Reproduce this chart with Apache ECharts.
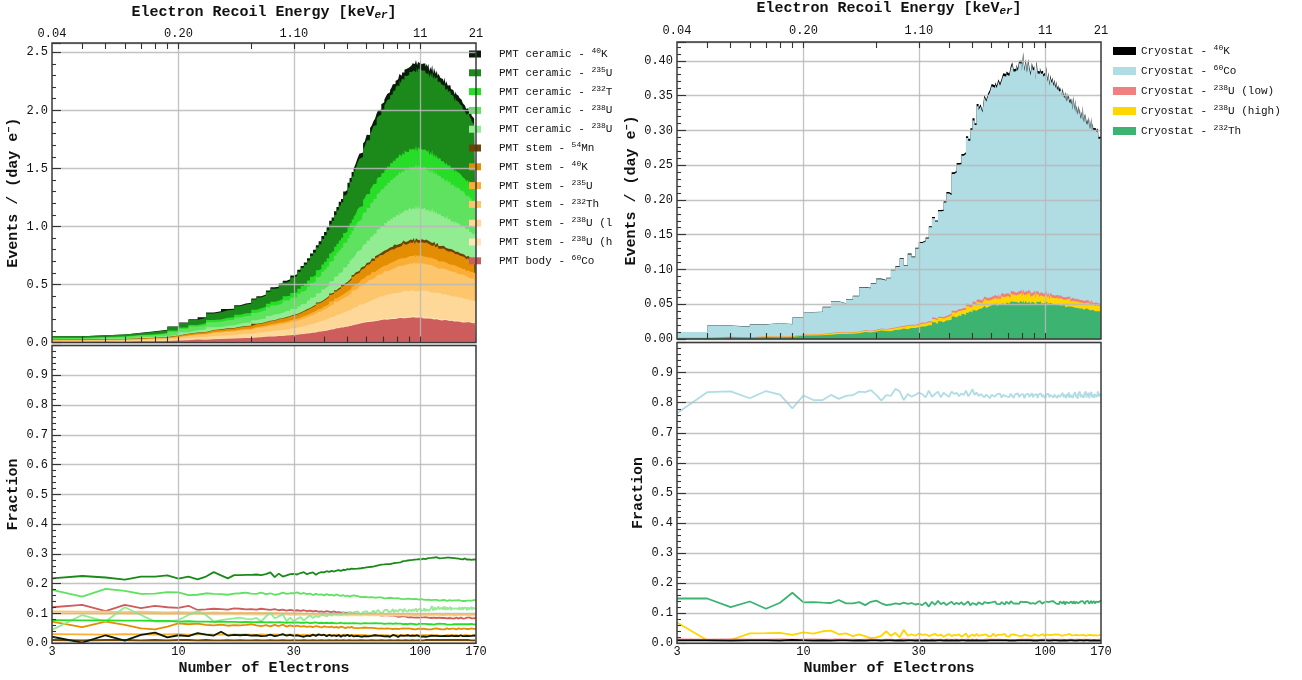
<!DOCTYPE html>
<html>
<head>
<meta charset="utf-8">
<title>Electron recoil backgrounds</title>
<script src="https://cdn.jsdelivr.net/npm/echarts@6.0.0/dist/echarts.min.js"></script>
<style>
  html, body { margin: 0; padding: 0; background: #fff; }
  #main { width: 1302px; height: 680px; }
</style>
</head>
<body>
<div id="main"></div>
<script>
// bin lower edges: number of electrons, one bin per electron
var electrons = [
  3,4,5,6,7,8,9,10,11,12,
  13,14,15,16,17,18,19,20,21,22,
  23,24,25,26,27,28,29,30,31,32,
  33,34,35,36,37,38,39,40,41,42,
  43,44,45,46,47,48,49,50,51,52,
  53,54,55,56,57,58,59,60,61,62,
  63,64,65,66,67,68,69,70,71,72,
  73,74,75,76,77,78,79,80,81,82,
  83,84,85,86,87,88,89,90,91,92,
  93,94,95,96,97,98,99,100,101,102,
  103,104,105,106,107,108,109,110,111,112,
  113,114,115,116,117,118,119,120,121,122,
  123,124,125,126,127,128,129,130,131,132,
  133,134,135,136,137,138,139,140,141,142,
  143,144,145,146,147,148,149,150,151,152,
  153,154,155,156,157,158,159,160,161,162,
  163,164,165,166,167,168,169,170
];

// tick labels
var electronTicks = [3, 10, 30, 100, 170];
var electronLabels = ['3', '10', '30', '100', '170'];
var energyLabels = ['0.04', '0.20', '1.10', '11', '21'];
var gridTicks = [10, 30, 100];
var minorTicks = [4, 5, 6, 7, 8, 9, 20, 40, 50, 60, 70, 80, 90];

// ---- PMT panel: total rate (events / day / e-) ----
var pmtTotal = [
  .055,.063,.069,.080,.095,.110,.139,.171,.197,.214,
  .254,.269,.286,.297,.320,.335,.342,.380,.400,.420,
  .448,.466,.487,.510,.528,.560,.578,.602,.632,.668,
  .700,.738,.772,.812,.848,.888,.922,.962,1.004,1.052,
  1.088,1.138,1.178,1.222,1.258,1.304,1.338,1.384,1.428,1.474,
  1.508,1.556,1.598,1.642,1.676,1.722,1.752,1.794,1.822,1.862,
  1.888,1.924,1.948,1.984,2.006,2.044,2.062,2.094,2.108,2.136,
  2.148,2.176,2.186,2.214,2.226,2.252,2.258,2.284,2.288,2.314,
  2.316,2.342,2.344,2.366,2.362,2.384,2.378,2.398,2.392,2.410,
  2.398,2.418,2.404,2.428,2.410,2.430,2.412,2.446,2.408,2.422,
  2.400,2.414,2.390,2.402,2.378,2.390,2.366,2.376,2.352,2.364,
  2.338,2.350,2.326,2.334,2.310,2.318,2.296,2.304,2.282,2.290,
  2.266,2.276,2.250,2.260,2.238,2.244,2.222,2.230,2.208,2.216,
  2.194,2.200,2.180,2.186,2.164,2.172,2.150,2.158,2.136,2.144,
  2.122,2.130,2.106,2.114,2.092,2.100,2.076,2.086,2.062,2.070,
  2.046,2.054,2.032,2.040,2.016,2.024,2.000,2.006,1.986,1.990,
  1.968,1.976,1.952,1.960,1.938,1.944,1.920,1.920
];

// ---- PMT panel: fraction of each source ----
var fCer40K = [
  .022,.002,.027,.009,.028,.036,.020,.027,.024,.034,
  .029,.026,.039,.026,.028,.027,.028,.026,.027,.024,
  .025,.029,.024,.027,.031,.026,.028,.025,.027,.024,
  .022,.026,.024,.029,.025,.030,.027,.029,.024,.028,
  .025,.027,.024,.028,.022,.027,.025,.029,.024,.027,
  .023,.028,.025,.026,.022,.027,.024,.028,.023,.026,
  .025,.022,.027,.024,.026,.021,.025,.027,.023,.026,
  .024,.027,.022,.025,.028,.023,.026,.024,.021,.025,
  .027,.023,.025,.022,.026,.024,.027,.021,.025,.023,
  .026,.022,.025,.024,.027,.021,.024,.026,.022,.025,
  .023,.026,.022,.025,.027,.023,.024,.021,.026,.024,
  .022,.025,.027,.023,.025,.022,.026,.024,.021,.025,
  .024,.026,.022,.025,.023,.027,.024,.022,.026,.024,
  .025,.023,.026,.022,.025,.024,.027,.023,.025,.022,
  .026,.024,.022,.025,.027,.023,.025,.024,.021,.026,
  .024,.026,.023,.025,.022,.027,.024,.025,.023,.026,
  .025,.022,.026,.024,.027,.023,.025,.026
];
var fCer235U = [
  .218,.226,.221,.214,.224,.224,.228,.217,.224,.215,
  .224,.239,.228,.218,.229,.229,.230,.230,.231,.229,
  .232,.238,.222,.234,.224,.228,.232,.233,.231,.236,
  .239,.232,.236,.238,.230,.236,.239,.238,.242,.240,
  .243,.241,.244,.246,.243,.247,.246,.249,.248,.251,
  .250,.252,.251,.254,.252,.255,.254,.257,.256,.258,
  .257,.260,.259,.261,.262,.261,.264,.263,.265,.264,
  .266,.268,.266,.269,.268,.271,.270,.272,.271,.274,
  .272,.274,.276,.273,.277,.275,.278,.276,.279,.277,
  .280,.278,.281,.279,.282,.279,.283,.280,.282,.281,
  .284,.281,.283,.285,.282,.286,.283,.285,.287,.284,
  .286,.288,.285,.287,.289,.286,.288,.285,.287,.289,
  .286,.288,.285,.287,.289,.286,.288,.287,.285,.288,
  .286,.289,.287,.285,.288,.286,.284,.287,.285,.288,
  .286,.284,.287,.285,.283,.286,.284,.282,.285,.283,
  .285,.282,.284,.281,.283,.285,.282,.284,.281,.283,
  .280,.283,.281,.279,.282,.280,.283,.281
];
var fCer232T = [
  .078,.077,.077,.076,.076,.075,.075,.073,.074,.073,
  .073,.072,.073,.072,.072,.071,.072,.071,.071,.072,
  .070,.071,.070,.071,.070,.069,.070,.069,.070,.069,
  .069,.070,.068,.069,.070,.068,.069,.068,.069,.068,
  .069,.068,.067,.068,.069,.067,.068,.067,.068,.067,
  .068,.066,.067,.068,.066,.067,.068,.066,.067,.066,
  .067,.066,.068,.066,.067,.065,.067,.066,.065,.067,
  .066,.065,.067,.066,.065,.066,.067,.065,.066,.064,
  .066,.065,.064,.066,.065,.066,.064,.065,.066,.064,
  .065,.066,.064,.065,.063,.065,.066,.064,.065,.064,
  .065,.063,.065,.064,.066,.064,.063,.065,.064,.066,
  .064,.063,.065,.064,.065,.063,.064,.066,.064,.063,
  .065,.064,.063,.065,.064,.066,.063,.064,.065,.063,
  .064,.065,.063,.064,.066,.064,.063,.065,.064,.063,
  .065,.064,.063,.065,.064,.063,.065,.064,.066,.063,
  .064,.065,.063,.064,.065,.063,.064,.066,.064,.063,
  .065,.064,.063,.065,.064,.063,.065,.064
];
var fCer238Ua = [
  .179,.157,.183,.176,.166,.167,.172,.171,.162,.163,
  .168,.166,.165,.163,.167,.168,.170,.167,.166,.170,
  .165,.168,.163,.165,.170,.166,.168,.168,.171,.166,
  .169,.165,.167,.162,.166,.163,.164,.161,.165,.162,
  .163,.160,.164,.161,.159,.162,.158,.160,.157,.159,
  .161,.156,.158,.157,.155,.158,.156,.157,.154,.156,
  .155,.157,.153,.155,.154,.152,.154,.153,.151,.153,
  .152,.150,.153,.151,.152,.150,.151,.149,.152,.150,
  .149,.151,.148,.150,.149,.147,.150,.148,.149,.147,
  .148,.146,.149,.147,.148,.146,.147,.145,.148,.146,
  .147,.145,.146,.148,.145,.147,.144,.146,.145,.147,
  .144,.146,.145,.143,.146,.144,.145,.143,.146,.144,
  .145,.143,.144,.146,.143,.145,.142,.144,.143,.145,
  .142,.144,.143,.145,.142,.144,.143,.141,.144,.142,
  .143,.145,.142,.144,.143,.141,.144,.142,.143,.145,
  .142,.144,.141,.143,.144,.142,.143,.145,.142,.144,
  .143,.141,.144,.142,.145,.143,.144,.146
];
var fCer238Ub = [
  .045,.095,.073,.121,.095,.073,.073,.078,.095,.108,
  .095,.073,.078,.081,.084,.086,.082,.080,.085,.074,
  .090,.103,.084,.090,.098,.074,.086,.073,.082,.088,
  .076,.086,.094,.085,.092,.088,.096,.094,.090,.098,
  .093,.101,.096,.099,.094,.103,.097,.100,.106,.099,
  .104,.098,.107,.101,.096,.105,.102,.108,.100,.106,
  .103,.110,.101,.107,.112,.104,.108,.102,.111,.106,
  .113,.105,.110,.107,.115,.104,.112,.109,.106,.114,
  .108,.112,.104,.116,.109,.111,.106,.114,.110,.107,
  .115,.108,.112,.117,.106,.113,.110,.116,.109,.113,
  .111,.118,.107,.114,.112,.120,.109,.115,.112,.125,
  .110,.116,.121,.112,.118,.111,.123,.114,.117,.110,
  .120,.113,.118,.124,.112,.117,.121,.113,.119,.115,
  .122,.111,.118,.114,.120,.116,.112,.121,.117,.113,
  .119,.115,.122,.113,.118,.116,.121,.112,.119,.117,
  .114,.120,.116,.111,.121,.117,.113,.119,.115,.122,
  .116,.112,.120,.117,.114,.121,.115,.118
];
var fStem54Mn = [
  .011,.010,.011,.011,.010,.011,.010,.011,.011,.010,
  .011,.010,.010,.011,.010,.011,.010,.010,.011,.010,
  .010,.011,.010,.010,.011,.010,.010,.011,.010,.010,
  .011,.010,.010,.011,.010,.010,.011,.010,.010,.011,
  .010,.010,.011,.010,.010,.011,.010,.010,.011,.010,
  .010,.011,.010,.010,.011,.010,.010,.011,.010,.010,
  .011,.010,.010,.011,.010,.010,.011,.010,.010,.011,
  .010,.010,.011,.010,.010,.011,.010,.010,.011,.010,
  .010,.011,.010,.010,.011,.010,.010,.011,.010,.010,
  .011,.010,.010,.011,.010,.010,.011,.010,.010,.011,
  .010,.010,.011,.010,.010,.011,.010,.010,.011,.010,
  .010,.011,.010,.010,.011,.010,.010,.011,.010,.010,
  .011,.010,.010,.011,.010,.010,.011,.010,.010,.011,
  .010,.010,.011,.010,.010,.011,.010,.010,.011,.010,
  .010,.011,.010,.010,.011,.010,.010,.011,.010,.010,
  .011,.010,.010,.011,.010,.010,.011,.010,.010,.011,
  .010,.010,.011,.010,.010,.011,.010,.010
];
var fStem40K = [
  .073,.054,.073,.062,.050,.047,.056,.067,.064,.066,
  .062,.060,.063,.059,.061,.060,.062,.064,.060,.058,
  .061,.057,.062,.058,.063,.056,.060,.057,.059,.056,
  .058,.055,.057,.054,.058,.056,.053,.057,.055,.054,
  .056,.053,.055,.052,.056,.054,.051,.054,.053,.055,
  .052,.054,.051,.053,.052,.050,.053,.051,.052,.050,
  .052,.050,.051,.053,.049,.052,.050,.051,.049,.051,
  .050,.052,.049,.050,.048,.051,.049,.050,.048,.050,
  .049,.047,.050,.048,.049,.047,.050,.048,.049,.047,
  .048,.050,.047,.049,.048,.046,.049,.047,.048,.046,
  .049,.047,.048,.046,.049,.047,.048,.050,.047,.048,
  .046,.049,.047,.048,.050,.047,.049,.048,.046,.049,
  .047,.050,.048,.047,.049,.048,.050,.047,.049,.048,
  .050,.047,.049,.048,.046,.049,.048,.050,.047,.049,
  .048,.050,.047,.049,.048,.051,.048,.049,.047,.050,
  .049,.047,.050,.048,.049,.051,.048,.050,.047,.049,
  .050,.048,.049,.051,.048,.050,.049,.050
];
var fStem235U = [
  .031,.030,.029,.031,.030,.029,.030,.031,.029,.030,
  .030,.029,.030,.028,.030,.029,.030,.029,.028,.030,
  .029,.028,.030,.029,.028,.029,.030,.028,.029,.028,
  .029,.028,.029,.027,.029,.028,.029,.028,.027,.029,
  .028,.027,.029,.028,.027,.028,.029,.027,.028,.027,
  .028,.027,.028,.026,.028,.027,.028,.027,.026,.028,
  .027,.026,.028,.027,.026,.027,.028,.026,.027,.026,
  .027,.028,.026,.027,.026,.028,.027,.026,.027,.028,
  .026,.027,.028,.026,.027,.026,.028,.027,.026,.027,
  .028,.026,.027,.026,.028,.027,.026,.027,.028,.026,
  .027,.026,.028,.027,.026,.027,.028,.026,.027,.026,
  .028,.027,.026,.027,.028,.026,.027,.026,.028,.027,
  .026,.027,.028,.026,.027,.026,.028,.027,.026,.027,
  .028,.026,.027,.026,.028,.027,.026,.027,.028,.026,
  .027,.026,.028,.027,.026,.027,.028,.026,.027,.026,
  .028,.027,.026,.027,.028,.026,.027,.026,.028,.027,
  .026,.027,.028,.026,.027,.026,.028,.027
];
var fStem232Th = [
  .107,.106,.106,.105,.106,.105,.104,.105,.104,.104,
  .103,.104,.103,.103,.102,.103,.102,.102,.103,.101,
  .102,.101,.102,.101,.100,.101,.100,.101,.100,.100,
  .099,.100,.099,.100,.099,.098,.099,.100,.098,.099,
  .098,.099,.097,.098,.099,.097,.098,.097,.098,.099,
  .097,.098,.097,.096,.098,.097,.098,.096,.097,.098,
  .097,.096,.097,.098,.096,.097,.096,.098,.097,.096,
  .097,.096,.098,.097,.096,.097,.096,.097,.098,.096,
  .097,.096,.097,.095,.097,.096,.098,.096,.097,.095,
  .096,.097,.095,.097,.096,.098,.096,.095,.097,.096,
  .097,.095,.096,.098,.096,.097,.095,.096,.097,.095,
  .096,.098,.096,.095,.097,.096,.095,.097,.096,.098,
  .095,.097,.096,.095,.097,.096,.098,.095,.096,.097,
  .096,.095,.097,.096,.098,.095,.097,.096,.095,.097,
  .096,.098,.095,.097,.096,.095,.097,.096,.098,.095,
  .097,.096,.095,.097,.096,.098,.095,.097,.096,.095,
  .097,.096,.098,.095,.097,.096,.095,.097
];
var fStem238Ul = [
  .100,.100,.099,.100,.099,.099,.098,.099,.098,.098,
  .098,.097,.098,.097,.097,.098,.096,.097,.096,.097,
  .096,.097,.096,.095,.096,.097,.095,.096,.095,.096,
  .095,.096,.094,.095,.096,.094,.095,.094,.095,.096,
  .094,.095,.094,.093,.095,.094,.095,.093,.094,.095,
  .094,.093,.095,.094,.093,.094,.095,.093,.094,.093,
  .095,.094,.093,.094,.095,.093,.094,.093,.095,.094,
  .093,.094,.095,.093,.094,.093,.094,.095,.093,.094,
  .094,.093,.095,.094,.093,.094,.093,.095,.094,.093,
  .094,.095,.093,.094,.093,.095,.094,.093,.094,.095,
  .093,.094,.095,.093,.094,.093,.095,.094,.093,.094,
  .095,.093,.094,.093,.095,.094,.093,.094,.095,.093,
  .094,.093,.095,.094,.093,.094,.095,.093,.094,.093,
  .095,.094,.093,.094,.095,.093,.094,.093,.095,.094,
  .093,.094,.095,.093,.094,.093,.095,.094,.093,.094,
  .095,.093,.094,.093,.095,.094,.093,.094,.095,.093,
  .094,.093,.095,.094,.093,.094,.095,.093
];
var fStem238Uh = [
  .008,.008,.007,.008,.007,.007,.008,.007,.007,.007,
  .007,.006,.007,.007,.006,.007,.006,.007,.006,.006,
  .006,.007,.006,.006,.005,.006,.006,.005,.006,.006,
  .005,.006,.005,.006,.005,.005,.006,.005,.005,.006,
  .005,.005,.006,.005,.005,.004,.005,.005,.004,.005,
  .005,.004,.005,.004,.005,.005,.004,.005,.004,.005,
  .004,.005,.005,.004,.005,.004,.005,.004,.005,.005,
  .005,.004,.005,.005,.004,.005,.004,.005,.005,.004,
  .004,.005,.004,.005,.005,.004,.005,.004,.005,.004,
  .005,.005,.004,.005,.004,.005,.005,.004,.005,.004,
  .004,.005,.005,.004,.005,.004,.005,.005,.004,.005,
  .005,.004,.005,.004,.005,.005,.004,.005,.004,.005,
  .004,.005,.004,.005,.005,.004,.005,.004,.005,.005,
  .005,.004,.005,.005,.004,.005,.004,.005,.004,.005,
  .004,.005,.005,.004,.005,.004,.005,.005,.004,.005,
  .005,.004,.005,.004,.005,.005,.004,.005,.004,.005,
  .004,.005,.004,.005,.005,.004,.005,.004
];
var fBody60Co = [
  .121,.129,.108,.129,.118,.126,.121,.119,.126,.112,
  .114,.116,.115,.113,.117,.116,.114,.115,.113,.116,
  .114,.112,.115,.111,.113,.110,.112,.110,.111,.109,
  .111,.108,.110,.107,.109,.106,.107,.105,.108,.106,
  .105,.107,.104,.105,.103,.104,.102,.103,.101,.103,
  .100,.101,.099,.101,.098,.100,.097,.099,.098,.096,
  .097,.095,.097,.094,.096,.095,.093,.095,.094,.092,
  .094,.092,.093,.091,.093,.090,.092,.091,.089,.091,
  .090,.089,.091,.088,.090,.089,.087,.089,.088,.090,
  .087,.089,.086,.088,.087,.089,.086,.088,.087,.085,
  .087,.086,.088,.085,.087,.086,.084,.086,.085,.087,
  .085,.086,.084,.086,.085,.087,.084,.086,.085,.083,
  .085,.084,.086,.085,.083,.085,.084,.086,.084,.085,
  .083,.085,.084,.086,.084,.083,.085,.084,.086,.084,
  .085,.083,.085,.084,.086,.084,.085,.083,.085,.086,
  .084,.085,.083,.086,.084,.085,.087,.084,.086,.085,
  .084,.086,.085,.087,.084,.086,.085,.086
];

// ---- Cryostat panel: total rate ----
var cryoTotal = [
  .010,.019,.018,.021,.0225,.021,.031,.038,.039,.046,
  .053,.051,.056,.062,.073,.073,.079,.086,.086,.087,
  .100,.101,.115,.105,.122,.118,.131,.137,.141,.145,
  .161,.174,.169,.181,.186,.196,.211,.208,.235,.240,
  .249,.253,.263,.268,.284,.287,.302,.308,.310,.333,
  .331,.336,.328,.350,.341,.352,.361,.364,.358,.368,
  .362,.371,.366,.373,.380,.376,.383,.378,.387,.384,
  .396,.388,.385,.393,.381,.402,.394,.388,.407,.390,
  .398,.386,.395,.389,.380,.392,.390,.386,.377,.395,
  .384,.382,.388,.379,.386,.375,.382,.377,.385,.372,
  .378,.370,.375,.368,.372,.364,.371,.362,.366,.360,
  .363,.355,.360,.357,.350,.356,.352,.346,.354,.344,
  .350,.343,.347,.340,.345,.336,.342,.333,.345,.330,
  .338,.327,.333,.325,.332,.323,.326,.318,.324,.316,
  .330,.314,.320,.312,.317,.310,.315,.308,.314,.306,
  .312,.304,.310,.302,.306,.300,.304,.298,.302,.296,
  .300,.294,.298,.288,.292,.286,.290,.288
];

// ---- Cryostat panel: fractions ----
var fCry40K = [
  .010,.010,.009,.010,.010,.009,.011,.010,.009,.010,
  .009,.010,.010,.009,.010,.009,.010,.010,.009,.010,
  .010,.009,.010,.009,.010,.010,.009,.010,.009,.010,
  .009,.010,.009,.010,.010,.009,.010,.009,.010,.009,
  .010,.009,.010,.010,.009,.010,.009,.010,.009,.010,
  .009,.010,.009,.010,.009,.010,.010,.009,.010,.009,
  .010,.009,.010,.009,.010,.009,.010,.010,.009,.010,
  .009,.010,.009,.010,.010,.009,.010,.009,.010,.009,
  .010,.009,.010,.009,.010,.010,.009,.010,.009,.010,
  .009,.010,.010,.009,.010,.009,.010,.009,.010,.010,
  .009,.010,.009,.010,.009,.010,.010,.009,.010,.009,
  .010,.009,.010,.010,.009,.010,.009,.010,.009,.010,
  .009,.010,.009,.010,.010,.009,.010,.009,.010,.009,
  .010,.010,.009,.010,.009,.010,.009,.010,.010,.009,
  .010,.009,.010,.009,.010,.010,.009,.010,.009,.010,
  .009,.010,.010,.009,.010,.009,.010,.009,.010,.010,
  .009,.010,.009,.010,.010,.009,.010,.009
];
var fCry60Co = [
  .765,.835,.838,.815,.839,.827,.781,.824,.809,.809,
  .826,.813,.823,.825,.837,.835,.842,.826,.807,.825,
  .823,.846,.838,.809,.829,.820,.826,.833,.829,.818,
  .840,.820,.829,.837,.818,.833,.826,.820,.837,.829,
  .833,.822,.831,.826,.840,.822,.831,.845,.826,.834,
  .822,.829,.825,.818,.827,.825,.815,.826,.832,.820,
  .828,.823,.830,.817,.826,.832,.821,.827,.819,.830,
  .824,.816,.828,.822,.831,.818,.826,.823,.829,.815,
  .827,.821,.830,.819,.825,.832,.818,.826,.822,.829,
  .816,.828,.823,.831,.819,.826,.821,.815,.828,.823,
  .830,.818,.826,.822,.832,.817,.827,.821,.829,.816,
  .826,.831,.819,.825,.822,.833,.818,.827,.824,.815,
  .829,.821,.834,.817,.826,.823,.831,.816,.828,.822,
  .835,.819,.826,.813,.830,.824,.837,.818,.827,.821,
  .832,.816,.829,.823,.838,.817,.826,.820,.833,.815,
  .828,.822,.836,.818,.827,.831,.816,.829,.823,.835,
  .819,.826,.838,.821,.816,.830,.824,.821
];
var fCry238Ul = [
  .013,.012,.013,.012,.012,.013,.012,.012,.013,.012,
  .012,.013,.012,.012,.011,.012,.013,.012,.011,.012,
  .012,.011,.012,.013,.012,.011,.012,.012,.011,.012,
  .011,.012,.012,.011,.012,.011,.012,.012,.011,.012,
  .012,.011,.012,.011,.012,.012,.011,.012,.011,.012,
  .011,.012,.011,.012,.012,.011,.012,.011,.012,.011,
  .012,.011,.012,.012,.011,.012,.011,.012,.011,.012,
  .011,.012,.011,.012,.011,.012,.012,.011,.012,.011,
  .012,.011,.012,.011,.012,.011,.012,.012,.011,.012,
  .011,.012,.011,.012,.012,.011,.012,.011,.012,.011,
  .012,.011,.012,.011,.012,.012,.011,.012,.011,.012,
  .011,.012,.012,.011,.012,.011,.012,.011,.012,.012,
  .011,.012,.011,.012,.011,.012,.012,.011,.012,.011,
  .012,.011,.012,.012,.011,.012,.011,.012,.011,.012,
  .011,.012,.011,.012,.012,.011,.012,.011,.012,.011,
  .012,.011,.012,.011,.012,.012,.011,.012,.011,.012,
  .011,.012,.011,.012,.011,.012,.012,.011
];
var fCry238Uh = [
  .069,.010,.011,.033,.034,.035,.028,.036,.032,.040,
  .042,.030,.033,.024,.030,.024,.017,.020,.025,.040,
  .025,.035,.020,.045,.025,.030,.025,.032,.028,.030,
  .024,.028,.031,.025,.029,.022,.027,.031,.024,.028,
  .026,.030,.022,.027,.033,.020,.026,.029,.024,.031,
  .025,.022,.028,.026,.030,.023,.027,.025,.032,.024,
  .026,.029,.023,.028,.025,.031,.024,.027,.022,.029,
  .026,.030,.024,.027,.033,.025,.028,.023,.026,.029,
  .024,.027,.031,.025,.028,.023,.026,.030,.024,.027,
  .029,.025,.022,.028,.026,.031,.024,.027,.029,.025,
  .028,.023,.027,.031,.025,.029,.024,.026,.030,.027,
  .024,.029,.026,.032,.025,.028,.023,.027,.030,.026,
  .029,.024,.027,.031,.025,.028,.026,.030,.024,.027,
  .031,.025,.028,.024,.029,.026,.032,.025,.027,.030,
  .024,.028,.026,.031,.025,.029,.023,.027,.030,.026,
  .028,.024,.031,.026,.029,.025,.027,.032,.024,.028,
  .026,.030,.025,.029,.027,.031,.026,.028
];
var fCry232Th = [
  .149,.149,.120,.139,.115,.135,.168,.136,.137,.135,
  .134,.144,.133,.133,.137,.127,.138,.142,.133,.127,
  .129,.133,.130,.135,.131,.134,.129,.131,.127,.136,
  .122,.138,.128,.141,.130,.136,.127,.133,.138,.129,
  .135,.130,.137,.128,.133,.139,.126,.134,.131,.128,
  .136,.132,.129,.137,.131,.134,.128,.136,.133,.139,
  .131,.135,.130,.137,.133,.129,.138,.134,.131,.140,
  .135,.132,.138,.133,.136,.131,.139,.134,.137,.132,
  .138,.133,.136,.140,.132,.137,.134,.139,.131,.136,
  .138,.133,.140,.135,.132,.138,.136,.133,.139,.134,
  .137,.131,.139,.135,.133,.140,.134,.137,.132,.138,
  .135,.130,.139,.134,.137,.132,.140,.135,.129,.138,
  .134,.141,.133,.137,.130,.139,.135,.132,.140,.136,
  .131,.138,.134,.141,.133,.136,.129,.139,.135,.133,
  .140,.134,.137,.131,.139,.136,.133,.141,.135,.132,
  .138,.135,.141,.133,.137,.134,.140,.136,.132,.139,
  .135,.141,.134,.137,.140,.136,.138,.142
];

// legend order (top of stack first)
var pmtKeys = ['cer40K', 'cer235U', 'cer232T', 'cer238Ua', 'cer238Ub', 'stem54Mn',
  'stem40K', 'stem235U', 'stem232Th', 'stem238Ul', 'stem238Uh', 'body60Co'];
var pmtLabels = ['PMT ceramic - {s|40}K', 'PMT ceramic - {s|235}U', 'PMT ceramic - {s|232}T',
  'PMT ceramic - {s|238}U', 'PMT ceramic - {s|238}U', 'PMT stem - {s|54}Mn',
  'PMT stem - {s|40}K', 'PMT stem - {s|235}U', 'PMT stem - {s|232}Th',
  'PMT stem - {s|238}U (l', 'PMT stem - {s|238}U (h', 'PMT body - {s|60}Co'];
var pmtFracs = [fCer40K, fCer235U, fCer232T, fCer238Ua, fCer238Ub, fStem54Mn,
  fStem40K, fStem235U, fStem232Th, fStem238Ul, fStem238Uh, fBody60Co];
var pmtColors = ['#0a1c0a', '#1b8a1b', '#28dd28', '#5fe25f', '#92ec92', '#6e4404',
  '#e38d02', '#fbae36', '#fdc66c', '#fed898', '#ffe5b8', '#cd5c5c'];

var cryoKeys = ['cry40K', 'cry60Co', 'cry238Ul', 'cry238Uh', 'cry232Th'];
var cryoLabels = ['Cryostat - {s|40}K', 'Cryostat - {s|60}Co', 'Cryostat - {s|238}U (low)',
  'Cryostat - {s|238}U (high)', 'Cryostat - {s|232}Th'];
var cryoFracs = [fCry40K, fCry60Co, fCry238Ul, fCry238Uh, fCry232Th];
var cryoColors = ['#000000', '#b0dde4', '#f08080', '#ffd700', '#3cb371'];

var FONT = 'Liberation Mono';
var INK = '#111';

var lg = function (v) { return Math.log10(v); };
var xLo = lg(electronTicks[0]);
var xHi = lg(electronTicks[electronTicks.length - 1]);
var labelPos = electronTicks.map(lg);
var gridPos = gridTicks.map(lg);
var tickPos = minorTicks.concat(gridTicks).map(lg);

function pickLabel(list) {
    return function (v) {
        for (var i = 0; i < labelPos.length; i++) {
            if (Math.abs(labelPos[i] - v) < 1e-6) return list[i];
        }
        return '';
    };
}

var gridLine = { show: true, lineStyle: { color: 'rgba(185,185,185,0.85)', width: 1.3 } };
var tickLine = { color: '#333', width: 1.1 };
var tickText = { fontFamily: FONT, fontSize: 12, color: INK };
var nameText = {
    fontFamily: FONT, fontSize: 15, fontWeight: 'bold', color: INK, lineHeight: 18,
    rich: {
        b: { fontFamily: FONT, fontSize: 15, fontWeight: 'bold', color: INK, lineHeight: 18 },
        i: { fontFamily: FONT, fontSize: 11, fontWeight: 'bold', fontStyle: 'italic', color: INK, lineHeight: 11, verticalAlign: 'bottom' },
        s: { fontFamily: FONT, fontSize: 10, fontWeight: 'bold', color: INK, lineHeight: 10, verticalAlign: 'top' }
    }
};
var energyTitle = '{b|Electron Recoil Energy [keV}{i|er}{b|]}';
var eventsTitle = '{b|Events / (day e}{s|\u2212}{b|)}';

// x axis carrying the data + vertical grid lines
function dataAxis(grid, withLabels) {
    return {
        type: 'value', gridIndex: grid, position: 'bottom', min: xLo, max: xHi, z: 5,
        axisLine: { show: false },
        axisTick: { show: false, customValues: gridPos },
        splitLine: gridLine,
        axisLabel: withLabels
            ? Object.assign({ customValues: labelPos, formatter: pickLabel(electronLabels), margin: 3 }, tickText)
            : { show: false },
        name: withLabels ? 'Number of Electrons' : '',
        nameLocation: 'middle', nameGap: 16, nameTextStyle: nameText
    };
}
// x axis that only draws inner ticks (and the energy scale on top)
function tickAxis(grid, pos, labels, margin, gap) {
    return {
        type: 'value', gridIndex: grid, position: pos, min: xLo, max: xHi, z: 5,
        axisLine: { show: false },
        axisTick: { show: true, inside: true, length: 6, lineStyle: tickLine, customValues: tickPos },
        splitLine: { show: false },
        axisLabel: labels
            ? Object.assign({ customValues: labelPos, formatter: pickLabel(labels), margin: margin }, tickText)
            : { show: false },
        name: labels ? energyTitle : '',
        nameLocation: 'middle', nameGap: gap || 0, nameTextStyle: nameText
    };
}
function valueAxis(grid, max, step, digits, name, gap) {
    return {
        type: 'value', gridIndex: grid, min: 0, max: max, interval: step, z: 5,
        axisLine: { show: false },
        axisTick: { show: true, inside: true, length: 9, lineStyle: tickLine },
        minorTick: { show: true, splitNumber: 5, length: 4, lineStyle: tickLine },
        splitLine: gridLine,
        axisLabel: Object.assign({
            showMaxLabel: false, margin: 4,
            formatter: function (v) { return v.toFixed(digits); }
        }, tickText),
        name: name, nameLocation: 'middle', nameGap: gap, nameTextStyle: nameText
    };
}

// stacked histogram: each layer is drawn as the cumulative sum up to it,
// tallest first, so the lower layers paint over it
function layerSeries(keys, fracs, total, colors, xi, yi) {
    var tops = [];
    var cum = electrons.map(function () { return 0; });
    for (var k = keys.length - 1; k >= 0; k--) {
        cum = cum.map(function (c, i) { return c + total[i] * fracs[k][i]; });
        tops[k] = cum;
    }
    return keys.map(function (key, k) {
        return {
            type: 'line', name: key, xAxisIndex: xi, yAxisIndex: yi,
            step: 'end', symbol: 'none', silent: true,
            lineStyle: { opacity: 0 },
            itemStyle: { color: colors[k] },
            areaStyle: { color: colors[k], opacity: 1 },
            data: electrons.map(function (n, i) { return [lg(n), tops[k][i]]; })
        };
    });
}
function fracSeries(keys, fracs, colors, xi, yi) {
    var out = [];
    for (var k = keys.length - 1; k >= 0; k--) {
        out.push({
            type: 'line', name: 'f_' + keys[k], xAxisIndex: xi, yAxisIndex: yi,
            symbol: 'none', silent: true,
            lineStyle: { color: colors[k], width: 1.8 },
            itemStyle: { color: colors[k] },
            data: electrons.map(function (n, i) { return [lg(n), fracs[k][i]]; })
        });
    }
    return out;
}

function legendFor(keys, labels, left, top, w, h, gap, pad) {
    return {
        orient: 'vertical', left: left, top: top, padding: 0,
        itemWidth: w, itemHeight: h, itemGap: gap,
        icon: 'rect', selectedMode: false, data: keys,
        formatter: function (name) {
            return (pad ? '{g| }' : '') + labels[keys.indexOf(name)];
        },
        textStyle: {
            fontFamily: FONT, fontSize: 11, color: INK, lineHeight: 14,
            rich: {
                s: { fontFamily: FONT, fontSize: 8, color: INK, lineHeight: 9, verticalAlign: 'top' },
                g: { width: pad || 0 }
            }
        }
    };
}

var frame = { show: true, borderColor: '#3a3a3a', borderWidth: 1.5, backgroundColor: 'transparent', z: 10, outerBoundsMode: 'none' };

var chart = echarts.init(document.getElementById('main'));
chart.setOption({
    backgroundColor: '#fff',
    animation: false,
    grid: [
        Object.assign({ left: 52, top: 43, width: 424, height: 299.5 }, frame),
        Object.assign({ left: 52, top: 345.5, width: 424, height: 297.8 }, frame),
        Object.assign({ left: 677, top: 42, width: 424, height: 297 }, frame),
        Object.assign({ left: 677, top: 342.6, width: 424, height: 300.7 }, frame)
    ],
    xAxis: [
        dataAxis(0, false),
        tickAxis(0, 'top', energyLabels, 3, 22),
        tickAxis(0, 'bottom', null),
        dataAxis(1, true),
        dataAxis(2, false),
        tickAxis(2, 'top', energyLabels, 5, 25),
        tickAxis(2, 'bottom', null),
        dataAxis(3, true)
    ],
    yAxis: [
        valueAxis(0, 2.58, 0.5, 1, eventsTitle, 28),
        valueAxis(1, 1, 0.1, 1, 'Fraction', 28),
        valueAxis(2, 0.427, 0.05, 2, eventsTitle, 35),
        valueAxis(3, 1, 0.1, 1, 'Fraction', 28)
    ],
    legend: [
        legendFor(pmtKeys, pmtLabels, 469, 47, 12, 7, 4.8, 13),
        legendFor(cryoKeys, cryoLabels, 1113, 44, 23, 8, 6, 0)
    ],
    series: []
        .concat(layerSeries(pmtKeys, pmtFracs, pmtTotal, pmtColors, 0, 0))
        .concat(fracSeries(pmtKeys, pmtFracs, pmtColors, 3, 1))
        .concat(layerSeries(cryoKeys, cryoFracs, cryoTotal, cryoColors, 4, 2))
        .concat(fracSeries(cryoKeys, cryoFracs, cryoColors, 7, 3))
});
</script>
</body>
</html>
